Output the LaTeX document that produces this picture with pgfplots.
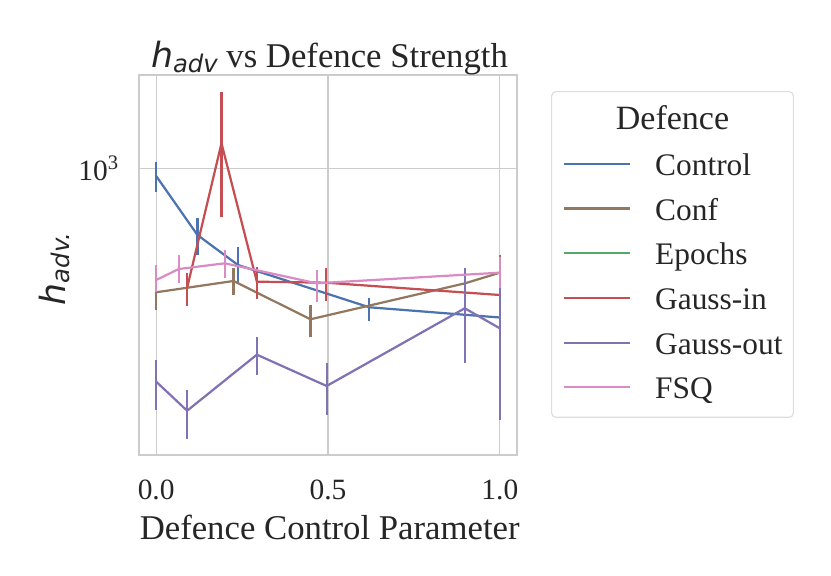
\documentclass[border=0pt]{standalone}
\usepackage{fontspec}
\setmainfont{Liberation Serif}
\newfontfamily\djv{DejaVu Sans}
\usepackage{pgfplots}
\pgfplotsset{compat=1.18}
\usepackage{pgfplotstable}

\definecolor{cblue}{HTML}{4C72B0}
\definecolor{cbrown}{HTML}{937860}
\definecolor{cgreen}{HTML}{55A868}
\definecolor{cred}{HTML}{C44E52}
\definecolor{cpurple}{HTML}{8172B3}
\definecolor{cpink}{HTML}{DA8BC3}
\definecolor{cgrid}{HTML}{CCCCCC}
\definecolor{cframe}{HTML}{DDDDDD}
\definecolor{ctext}{HTML}{262626}

\newcommand{\hadv}[1]{{\djv\itshape h\raisebox{-1.5bp}{\fontsize{8.75bp}{10bp}\selectfont #1}}}

\pgfplotstableread{
x y ep em
0 956.6 82.1 82.6
0.12 681.2 68.7 74.1
0.238 573.1 62.6 56.4
0.62 449.3 23.9 33.4
1.0 423.6 21.3 20.2
}\control
\pgfplotstableread{
x y ep em
0 489.8 51.2 47.5
0.225 522.7 39.6 40.5
0.449 419.3 35.9 40.0
0.899 515.8 44.3 49.1
1.0 548.3 58.8 56.8
}\conf
\pgfplotstableread{
x y ep em
0.09 502.1 44.3 49.5
0.19 1154.8 394.0 398.0
0.293 520.6 47.0 49.3
0.494 517.6 47.3 52.5
1.0 482.2 28.6 42.4
}\gaussin
\pgfplotstableread{
x y ep em
0 292.8 38.9 44.1
0.09 247.7 31.4 37.2
0.293 342.0 37.3 37.7
0.496 285.6 39.9 43.9
0.898 446.7 115.0 121.6
1.0 398.1 104.0 163.3
}\gaussout
\pgfplotstableread{
x y ep em
0 525.7 47.4 34.2
0.066 560.1 47.0 44.3
0.2 578.7 46.1 47.8
0.467 515.8 41.1 51.8
1.0 548.3 50.8 47.1
}\fsq

\begin{document}
\begin{tikzpicture}
\path[use as bounding box] (0,0) rectangle (299.16bp,207.36bp);
\begin{axis}[
  at={(50.04bp,43.56bp)}, anchor=south west,
  scale only axis, width=136.08bp, height=136.8bp,
  xmin=-0.05, xmax=1.05, ymode=log, ymin=192.0, ymax=1711,
  xtick={0,0.5,1}, xticklabels={0.0,0.5,1.0},
  ytick={1000}, yticklabels={10\textsuperscript{3}},
  minor ytick={},
  grid=major, major grid style={cgrid, line width=0.45bp},
  axis line style={cgrid, line width=0.55bp},
  major tick length=0pt, minor tick length=0pt,
  xticklabel style={font=\fontsize{10.6bp}{12bp}\selectfont, text=ctext, anchor=base, inner sep=0pt, yshift=-16.1bp},
  yticklabel style={font=\fontsize{10.6bp}{12bp}\selectfont, text=ctext, anchor=east, inner sep=0pt, xshift=-6.8bp},
  title={\hadv{adv} vs Defence Strength},
  every axis title/.style={at={(axis description cs:0.504,1.0184)}, anchor=base, font=\fontsize{12.5bp}{15bp}\selectfont, text=ctext, inner sep=0pt},
  xlabel={Defence Control Parameter},
  xlabel style={at={(axis description cs:0.5045,-0.2224)}, anchor=base, font=\fontsize{12.5bp}{15bp}\selectfont, text=ctext, inner sep=0pt},
  ylabel={\hadv{adv.}},
  ylabel style={at={(axis description cs:-0.1955,0.4895)}, anchor=base, rotate=0, font=\fontsize{12.5bp}{15bp}\selectfont, text=ctext, inner sep=0pt},
  legend cell align=left,
  legend style={at={(axis description cs:1.1209,0.8125)}, anchor=north west, draw=none, fill=none, inner sep=0pt,
    row sep={16.09bp,between origins}, column sep=8.7bp, text=ctext,
    font=\fontsize{11.3bp}{13bp}\selectfont,
    nodes={inner sep=0pt, text height=10.28bp, text depth=2bp}},
  legend image code/.code={\draw[#1, line width=0.8bp] (0bp,0bp) -- (23.6bp,0bp);},
  every axis plot/.append style={line width=0.8bp, mark=none},
]
\addplot[cblue, error bars/.cd, y dir=both, y explicit, error mark=none, error bar style={line width=0.8bp}]
  table[x=x, y=y, y error plus=ep, y error minus=em] {\control};
\addlegendentry{Control}
\addplot[cbrown, error bars/.cd, y dir=both, y explicit, error mark=none, error bar style={line width=0.8bp}]
  table[x=x, y=y, y error plus=ep, y error minus=em] {\conf};
\addlegendentry{Conf}
\addlegendimage{cgreen}
\addlegendentry{Epochs}
\addplot[cred, error bars/.cd, y dir=both, y explicit, error mark=none, error bar style={line width=0.8bp}]
  table[x=x, y=y, y error plus=ep, y error minus=em] {\gaussin};
\addlegendentry{Gauss-in}
\addplot[cpurple, error bars/.cd, y dir=both, y explicit, error mark=none, error bar style={line width=0.8bp}]
  table[x=x, y=y, y error plus=ep, y error minus=em] {\gaussout};
\addlegendentry{Gauss-out}
\addplot[cpink, error bars/.cd, y dir=both, y explicit, error mark=none, error bar style={line width=0.8bp}]
  table[x=x, y=y, y error plus=ep, y error minus=em] {\fsq};
\addlegendentry{FSQ}
\end{axis}
\node[anchor=base, font=\fontsize{12.25bp}{14bp}\selectfont, text=ctext, inner sep=0pt] at (242.1bp,160.56bp) {Defence};
\draw[cframe, line width=0.4bp, rounded corners=1.5bp] (198.6bp,57.13bp) rectangle (285.6bp,174.35bp);
\end{tikzpicture}
\end{document}
